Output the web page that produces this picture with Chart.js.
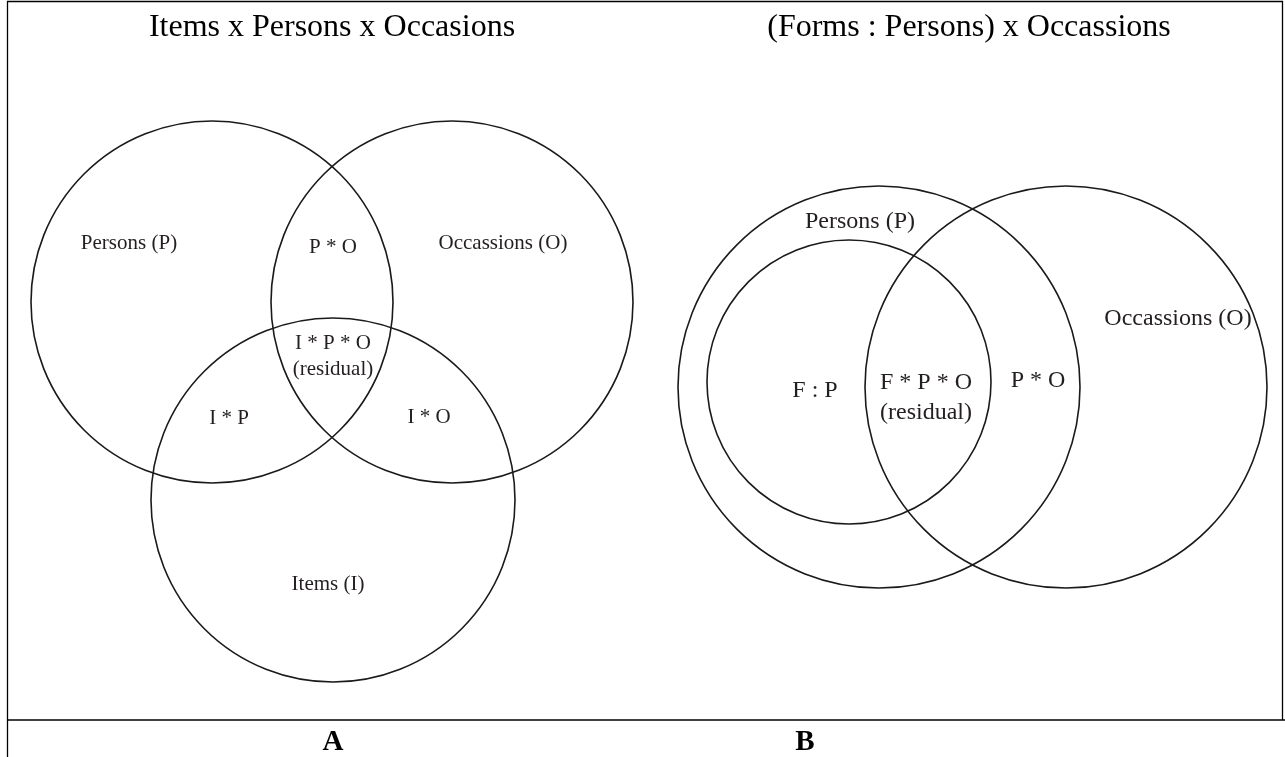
<!DOCTYPE html>
<html>
<head>
<meta charset="utf-8">
<script src="https://cdn.jsdelivr.net/npm/chart.js@4.4.1/dist/chart.umd.min.js"></script>
<style>
  html, body { margin: 0; padding: 0; background: #fff; overflow: hidden; }
  #wrap { width: 1285px; height: 757px; position: relative; }
</style>
</head>
<body>
<div id="wrap"><canvas id="venn"></canvas></div>
<script>
// panel titles and letters
const titles = ['Items x Persons x Occasions', '(Forms : Persons) x Occassions'];
const titleX = [332, 969];
const panelLetters = ['A', 'B'];
const letterX = [333, 805];

// circles, centre x / centre y / radius, in page units
const circlesA = [
  {x: 212, y: 302, r: 181},   // Persons
  {x: 452, y: 302, r: 181},   // Occassions
  {x: 333, y: 500, r: 182}    // Items
];
const circlesB = [
  {x: 879, y: 387, r: 201},   // Persons
  {x: 1066, y: 387, r: 201},  // Occassions
  {x: 849, y: 382, r: 142}    // Forms : Persons
];

// region labels
const labelsA = ['Persons (P)', 'P * O', 'Occassions (O)', 'I * P * O', '(residual)', 'I * P', 'I * O', 'Items (I)'];
const labelsAX = [129, 333, 503, 333, 333, 229, 429, 328];
const labelsAY = [243, 247, 243, 343, 369, 418, 417, 584];

const labelsB = ['Persons (P)', 'Occassions (O)', 'F : P', 'F * P * O', '(residual)', 'P * O'];
const labelsBX = [860, 1178, 815, 926, 926, 1038];
const labelsBY = [222, 319, 391, 383, 413, 381];

const W = 1285, H = 757;
const canvas = document.getElementById('venn');

function bubbleSet(data) {
  return {
    data: data,
    backgroundColor: 'rgba(0,0,0,0)',
    borderColor: '#1a1a1a',
    borderWidth: 1.6,
    hoverBorderWidth: 1.6,
    hoverRadius: 0,
    clip: false
  };
}

const framePlugin = {
  id: 'frame',
  afterDraw(chart) {
    const ctx = chart.ctx;
    const xs = chart.scales.x, ys = chart.scales.y;
    const px = v => xs.getPixelForValue(v);
    const py = v => ys.getPixelForValue(v);
    ctx.save();
    // outer box and the row line above the letters
    ctx.strokeStyle = '#000';
    ctx.lineWidth = 1.3;
    ctx.beginPath();
    ctx.moveTo(px(7.5), py(757)); ctx.lineTo(px(7.5), py(1.5));
    ctx.lineTo(px(1282.5), py(1.5)); ctx.lineTo(px(1282.5), py(720));
    ctx.moveTo(px(7), py(720)); ctx.lineTo(px(1285), py(720));
    ctx.stroke();

    ctx.textAlign = 'center';
    ctx.textBaseline = 'middle';
    ctx.fillStyle = '#000';
    ctx.font = '32px "Liberation Serif"';
    titles.forEach((t, i) => ctx.fillText(t, px(titleX[i]), py(28)));
    ctx.font = 'bold 29px "Liberation Serif"';
    panelLetters.forEach((t, i) => ctx.fillText(t, px(letterX[i]), py(743)));

    ctx.fillStyle = '#231f20';
    ctx.font = '21px "Liberation Serif"';
    labelsA.forEach((t, i) => ctx.fillText(t, px(labelsAX[i]), py(labelsAY[i])));
    ctx.font = '24px "Liberation Serif"';
    labelsB.forEach((t, i) => ctx.fillText(t, px(labelsBX[i]), py(labelsBY[i])));
    ctx.restore();
  }
};

new Chart(canvas, {
  type: 'bubble',
  data: {
    datasets: [bubbleSet(circlesA), bubbleSet(circlesB)]
  },
  options: {
    responsive: true,
    maintainAspectRatio: false,
    animation: false,
    events: [],
    layout: { padding: 0, autoPadding: false },
    plugins: {
      legend: { display: false },
      tooltip: { enabled: false }
    },
    scales: {
      x: { type: 'linear', display: false, min: 0, max: W },
      y: { type: 'linear', display: false, min: 0, max: H, reverse: true }
    }
  },
  plugins: [framePlugin]
});
</script>
</body>
</html>
